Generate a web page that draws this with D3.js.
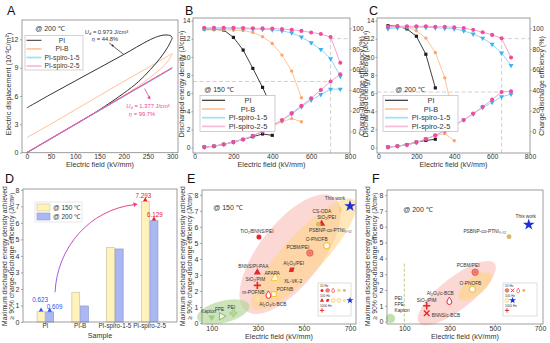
<!DOCTYPE html>
<html>
<head>
<meta charset="utf-8">
<script src="https://cdn.jsdelivr.net/npm/d3@7"></script>
<style>
  body { margin: 0; background: #fff; }
  svg { font-family: "Liberation Sans", Arial, sans-serif; }
</style>
</head>
<body>
<div id="fig"></div>
<script>
// ---------- data ----------
const seriesNames = ["PI", "PI-B", "PI-spiro-1-5", "PI-spiro-2-5"];

// A: unipolar D-E loops at 200 °C, [field kV/mm, D 10^-2 C/m2]
const piCharge = [[0, 0], [100, 3.0], [150, 4.55], [200, 6.3], [230, 7.5], [255, 8.8], [275, 10.0], [290, 11.1], [300, 12.1]];
const piDischarge = [[300, 12.1], [298, 12.35], [292, 12.45], [282, 12.45], [270, 12.3], [250, 11.85], [200, 10.4], [150, 9.0], [100, 7.6], [50, 6.2], [0, 4.75]];
const pibCharge = [[0, 0], [100, 3.0], [200, 6.05], [240, 7.4], [270, 8.6], [290, 9.6], [300, 10.5]];
const pibDischarge = [[300, 10.5], [250, 9.0], [200, 7.55], [150, 6.05], [100, 4.55], [50, 3.05], [0, 1.6]];
const s15Charge = [[0, 0], [150, 4.45], [300, 8.93]];
const s15Discharge = [[300, 8.93], [150, 4.5], [0, 0.02]];
const s25Charge = [[0, 0], [150, 4.5], [300, 9.0]];
const s25Discharge = [[300, 9.0], [150, 4.52], [0, 0.03]];

// B: 150 °C
const fieldPI150 = [50, 100, 150, 200, 250, 300, 350, 400];
const udPI150 = [0.05, 0.15, 0.35, 0.62, 0.9, 1.2, 1.5, 1.35];
const etaPI150 = [99, 99, 98.3, 91.2, 78.9, 61.1, 42.7, 22.3];
const fieldPIB150 = [50, 100, 150, 200, 250, 300, 350, 400, 450, 500, 550];
const udPIB150 = [0.05, 0.15, 0.35, 0.6, 0.9, 1.3, 1.8, 2.35, 2.85, 3.2, 2.85];
const etaPIB150 = [98.5, 98.5, 98.5, 98.3, 97.8, 96, 91.8, 85.3, 74, 58.5, 32.6];
const fieldSp150 = [50, 100, 150, 200, 250, 300, 350, 400, 450, 500, 550, 600, 650, 700, 750];
const udS15_150 = [0.05, 0.15, 0.35, 0.6, 0.9, 1.3, 1.8, 2.4, 3.0, 3.7, 4.5, 5.25, 5.85, 6.45, 6.45];
const etaS15_150 = [99.5, 99.5, 99.5, 99.5, 99.5, 99.3, 99, 98.5, 97.5, 95.5, 91.5, 86, 79.5, 70.5, 53.5];
const udS25_150 = [0.05, 0.15, 0.35, 0.6, 0.9, 1.3, 1.8, 2.45, 3.05, 3.8, 4.6, 5.45, 6.35, 7.293, 8.1];
const etaS25_150 = [100.5, 100.5, 100.5, 100.5, 100.3, 100, 100, 99.8, 99.3, 98.5, 97.5, 96, 94.5, 91.5, 66.5];

// C: 200 °C
const fieldPI200 = [50, 100, 150, 200, 250, 300];
const udPI200 = [0.05, 0.15, 0.33, 0.609, 0.78, 0.92];
const etaPI200 = [102.5, 102, 99.4, 92.3, 74.8, 42.2];
const fieldPIB200 = [50, 100, 150, 200, 250, 300, 350, 400];
const udPIB200 = [0.05, 0.15, 0.33, 0.6, 0.97, 1.3, 1.55, 0.75];
const etaPIB200 = [101, 101, 101, 97.6, 90.5, 76.5, 51.9, 11];
const fieldSp200 = [50, 100, 150, 200, 250, 300, 350, 400, 450, 500, 550, 600, 650, 700];
const udS15_200 = [0.05, 0.15, 0.3, 0.55, 0.95, 1.35, 1.85, 2.45, 3.05, 3.7, 4.42, 5.0, 5.6, 5.9];
const etaS15_200 = [99.5, 100.5, 101, 101, 101, 100.5, 100, 99.5, 97.5, 94.5, 90.5, 84.5, 76, 64];
const udS25_200 = [0.05, 0.15, 0.3, 0.55, 0.95, 1.35, 1.85, 2.45, 3.05, 3.75, 4.5, 5.3, 6.129, 6.22];
const etaS25_200 = [101.5, 102, 102, 102, 102, 101.5, 101.5, 101, 100.3, 98.5, 96.2, 93.6, 90.3, 71.7];

// D: max Ud at >= 90 % efficiency
const maxUd150 = [0.623, 1.8, 4.5, 7.293];
const maxUd200 = [0.609, 0.97, 4.42, 6.129];

// E: literature comparison at 150 °C
const eNames = ["This work", "CS-ODA", "SiO₂/PEI", "PSBNP-co-PTNI₀.₀₂", "TiO₂/BNNS/PEI", "O-PNOFB", "PCBM/PEI", "Al₂O₃/PEI", "BNNS/PI-PAA", "APAPA", "XL-VK-2", "SiO₂/PIM", "POFNB", "m-POFNB", "Al₂O₃/c-BCB", "PEI", "FPE", "Kapton"];
const eField = [700, 649, 577, 563, 305, 599, 526, 447, 298, 375, 396, 298, 370, 346, 298, 194, 143, 100];
const eUd = [7.293, 7.07, 6.2, 6.17, 5.36, 4.82, 4.37, 3.33, 3.16, 2.8, 2.7, 2.35, 1.81, 1.77, 1.52, 0.62, 0.42, 0.35];

// F: literature comparison at 200 °C
const fNames = ["This work", "PSBNP-co-PTNI₀.₀₂", "PCBM/PEI", "O-PNOFB", "Al₂O₃/c-BCB", "SiO₂/PIM", "BNNS/c-BCB", "PEI"];
const fField = [650, 563, 413, 401, 299, 199, 199, 39];
const fUd = [6.129, 5.37, 3.12, 2.05, 1.31, 1.0, 0.53, 0.2];

// ---------- styles ----------
const lineCol = ["#2a2a2a", "#ffc49a", "#96d6f5", "#f6a3cc"];
const markCol = ["#1c1c1c", "#ffa468", "#3db3ec", "#f04b9c"];
const legendCol = ["#333", "#ffc8a2", "#a9def6", "#f8bcd9"];
const eKind = ["star", "crescent", "redTri", "gold", "red", "ring", "hatch", "redSq", "redTri", "openTri", "yellow", "plus", "openSq", "drop", "pale", "greenPlus", "greenTri", "greenDown"];
const eLab = [[-15, -8, "middle"], [-7, 2, "end"], [5, -6, "middle"], [12, 6, "middle"], [-2, -6, "middle"], [-10, -6, "middle"], [-12, -6, "middle"], [2, -6, "middle"], [-4, -6, "middle"], [-3, -5, "middle"], [4, 2, "start"], [-2, -6, "middle"], [11, -5, "middle"], [-4, -2, "end"], [2, 6, "start"], [-2, -6, "middle"], [-2, -7, "middle"], [-3, -6, "middle"]];
const fKind = ["star", "gold", "hatch", "ring", "drop", "plus", "xmark", "blob"];
const fLab = [[-3, -8, "middle"], [-3, -5, "end"], [-7, -7, "middle"], [-2, -6, "middle"], [-9, -8, "middle"], [0, -5, "middle"], [5, 2, "start"], [3, -18, "start"]];

const W = 550, H = 343;
const svg = d3.select("#fig").append("svg").attr("width", W).attr("height", H);
const TXT = "#333", AX = "#858585";

function styleAxis(g, fs) {
  g.select(".domain").remove();
  g.selectAll("line").attr("stroke", AX).attr("stroke-width", 0.7);
  g.selectAll("text").attr("fill", TXT).style("font-size", fs + "px").attr("font-family", null);
}
function frame(x0, y0, x1, y1) {
  svg.append("rect").attr("x", x0).attr("y", y0).attr("width", x1 - x0).attr("height", y1 - y0)
    .attr("fill", "none").attr("stroke", AX).attr("stroke-width", 0.8);
}
function text(x, y, s, fs, anchor, col) {
  return svg.append("text").attr("x", x).attr("y", y).attr("text-anchor", anchor || "middle")
    .attr("fill", col || TXT).style("font-size", fs + "px").text(s);
}
function vtext(x, y, s, fs) {
  return svg.append("text").attr("transform", `translate(${x},${y}) rotate(-90)`)
    .attr("text-anchor", "middle").attr("fill", TXT).style("font-size", fs + "px").text(s);
}
function letter(x, y, s) { text(x, y, s, 12.5, "start", "#111"); }

// ---------- A ----------
(function drawA() {
  const x = d3.scaleLinear().domain([-10, 312]).range([22, 178]);
  const y = d3.scaleLinear().domain([0, 14.05]).range([152.7, 20]);
  const line = d3.line().x(d => x(d[0])).y(d => y(d[1])).curve(d3.curveCatmullRom);
  const branches = [[pibCharge, pibDischarge], [piCharge, piDischarge], [s15Charge, s15Discharge], [s25Charge, s25Discharge]];
  const order = [1, 0, 2, 3];
  const colA = ["#333", "#fdbb8e", "#6cc6f0", "#ee5aa7"];
  branches.forEach((b, k) => {
    const i = order[k];
    b.forEach(pts => svg.append("path").attr("d", line(pts)).attr("fill", "none")
      .attr("stroke", colA[i]).attr("stroke-width", i === 0 ? 1 : 0.9));
  });
  svg.append("g").attr("transform", "translate(0,152.7)")
    .call(d3.axisBottom(x).tickValues([0, 50, 100, 150, 200, 250, 300]).tickSize(1.8).tickPadding(-0.6))
    .call(g => styleAxis(g, 6.8));
  svg.append("g").attr("transform", "translate(22,0)")
    .call(d3.axisLeft(y).tickValues([0, 3, 6, 9, 12]).tickSize(2).tickPadding(1.5))
    .call(g => styleAxis(g, 7));
  frame(22, 20, 178, 152.7);
  text(100, 167, "Electric field (kV/mm)", 7.2);
  vtext(11, 84, "Electric displacement (10⁻²C/m²)", 7.2);
  letter(7, 15, "A");

  text(50, 31, "@ 200 ℃", 7);
  svg.append("rect").attr("x", 25).attr("y", 35.5).attr("width", 58).attr("height", 34.5)
    .attr("fill", "#fff").attr("stroke", "#b5b5b5").attr("stroke-width", 0.6);
  seriesNames.forEach((n, i) => {
    const yy = 40.3 + i * 8.6;
    svg.append("line").attr("x1", 26.5).attr("x2", 41.5).attr("y1", yy).attr("y2", yy)
      .attr("stroke", i === 0 ? "#333" : legendCol[i]).attr("stroke-width", i === 0 ? 1 : 1.8);
    text(62, yy + 2.3, n, 6.7);
  });

  // loss annotations
  const ud1 = text(106.5, 33.5, "", 5.8);
  ud1.append("tspan").attr("font-style", "italic").text("U");
  ud1.append("tspan").attr("font-size", "4px").attr("dy", 1).text("d");
  ud1.append("tspan").attr("dy", -1).text(" = 0.973 J/cm³");
  const eta1 = text(105, 41, "", 5.8);
  eta1.append("tspan").attr("font-style", "italic").text("η");
  eta1.append("tspan").text(" = 44.8%");
  svg.append("line").attr("x1", x(170)).attr("y1", 43).attr("x2", x(200)).attr("y2", y(10.4))
    .attr("stroke", "#222").attr("stroke-width", 0.7);
  svg.append("circle").attr("cx", x(177)).attr("cy", 45.5).attr("r", 1).attr("fill", "#222");

  const pink = "#ee3f97";
  svg.append("line").attr("x1", x(243)).attr("y1", y(7.1) + 3).attr("x2", x(252)).attr("y2", y(7.1) + 11)
    .attr("stroke", pink).attr("stroke-width", 0.8);
  svg.append("path").attr("d", d3.symbol(d3.symbolTriangle, 6)())
    .attr("transform", `translate(${x(252.5)},${y(7.1) + 12}) rotate(140)`).attr("fill", pink);
  const ud2 = text(148, 108, "", 5.8, "middle", pink);
  ud2.append("tspan").attr("font-style", "italic").text("U");
  ud2.append("tspan").attr("font-size", "4px").attr("dy", 1).text("d");
  ud2.append("tspan").attr("dy", -1).text(" = 1.377 J/cm³");
  const eta2 = text(142, 115.5, "", 5.8, "middle", pink);
  eta2.append("tspan").attr("font-style", "italic").text("η");
  eta2.append("tspan").text(" = 99.7%");
})();

// ---------- B, C ----------
function energyPanel(p) {
  const x = d3.scaleLinear().domain([-8, 800]).range([p.left, p.right]);
  const y = d3.scaleLinear().domain([-0.6, 14.3]).range([153, 18]);
  const yr = d3.scaleLinear().domain([-21, 110]).range([153, 18]);

  // 90 % guides
  const guide = (x1, y1, x2, y2) => svg.append("line").attr("x1", x1).attr("y1", y1).attr("x2", x2).attr("y2", y2)
    .attr("stroke", "#c4c4c4").attr("stroke-width", 0.8).attr("stroke-dasharray", "4,2.5");
  guide(p.left, y(p.maxUd), x(p.maxField), y(p.maxUd));
  guide(x(p.maxField), 153, x(p.maxField), yr(90));
  guide(x(p.maxField), yr(90), p.right, yr(90));

  const syms = [d3.symbolSquare, d3.symbolCircle, d3.symbolTriangle, d3.symbolCircle];
  const symSize = [10, 9, 11, 13];
  p.series.forEach((s, i) => {
    [[s.ud, y], [s.eta, yr]].forEach(([vals, sc]) => {
      const pts = s.field.map((f, k) => [f, vals[k]]);
      svg.append("path").attr("d", d3.line().x(d => x(d[0])).y(d => sc(d[1]))(pts))
        .attr("fill", "none").attr("stroke", lineCol[i]).attr("stroke-width", i === 0 ? 0.9 : 1);
      svg.append("g").selectAll("path").data(pts).join("path")
        .attr("d", d3.symbol(syms[i], symSize[i])())
        .attr("transform", d => `translate(${x(d[0])},${sc(d[1])})` + (i === 2 ? " rotate(180)" : ""))
        .attr("fill", markCol[i]);
    });
  });

  svg.append("g").attr("transform", "translate(0,153)")
    .call(d3.axisBottom(x).tickValues([0, 200, 400, 600, 800]).tickSize(1.8).tickPadding(-0.6))
    .call(g => styleAxis(g, 6.8));
  svg.append("g").attr("transform", `translate(${p.left},0)`)
    .call(d3.axisLeft(y).tickValues(d3.range(0, 15, 2)).tickSize(1.6).tickPadding(1))
    .call(g => styleAxis(g, 6.6));
  svg.append("g").attr("transform", `translate(${p.right},0)`)
    .call(d3.axisRight(yr).tickValues([0, 20, 40, 60, 80, 100]).tickSize(1.6).tickPadding(1))
    .call(g => styleAxis(g, 6.6));
  frame(p.left, 18, p.right, 153);

  text((p.left + p.right) / 2, 167, "Electric field (kV/mm)", 7.2);
  vtext(p.left - p.titleGap, 84, "Discharged energy density (J/cm³)", 7);
  vtext(p.right + 13.5, 86, "Charge-discharge efficiency (%)", 7);
  letter(p.left - 8, 14.5, p.letter);

  text(p.tempX, 91.5, p.temp, 7);
  const lx = p.legendX;
  svg.append("rect").attr("x", lx).attr("y", 95.5).attr("width", 75).attr("height", 36)
    .attr("fill", "#fff").attr("stroke", "#b0b0b0").attr("stroke-width", 0.6);
  seriesNames.forEach((n, i) => {
    const yy = 100.3 + i * 8.7;
    svg.append("line").attr("x1", lx + 2).attr("x2", lx + 25).attr("y1", yy).attr("y2", yy)
      .attr("stroke", legendCol[i]).attr("stroke-width", i === 0 ? 1.2 : 1.8);
    text(lx + 48, yy + 2.5, n, 7.4);
  });
}

energyPanel({
  left: 193, right: 350, letter: "B", temp: "@ 150 ℃", tempX: 219, legendX: 200,
  maxUd: 7.293, maxField: 700, titleGap: 9,
  series: [
    { field: fieldPI150, ud: udPI150, eta: etaPI150 },
    { field: fieldPIB150, ud: udPIB150, eta: etaPIB150 },
    { field: fieldSp150, ud: udS15_150, eta: etaS15_150 },
    { field: fieldSp150, ud: udS25_150, eta: etaS25_150 }
  ]
});
energyPanel({
  left: 377, right: 530, letter: "C", temp: "@ 200 ℃", tempX: 410, legendX: 383,
  maxUd: 6.129, maxField: 650, titleGap: 9.5,
  series: [
    { field: fieldPI200, ud: udPI200, eta: etaPI200 },
    { field: fieldPIB200, ud: udPIB200, eta: etaPIB200 },
    { field: fieldSp200, ud: udS15_200, eta: etaS15_200 },
    { field: fieldSp200, ud: udS25_200, eta: etaS25_200 }
  ]
});

// two-line y title used by D, E, F
function maxTitle(x, yc) {
  vtext(x, yc, "Maximum discharged energy density achieved", 6.8);
  vtext(x + 7.8, yc, "≥ 90% charge-discharge efficiency (J/cm³)", 6.8);
}

// ---------- D ----------
(function drawD() {
  const x = d3.scaleBand().domain(seriesNames).range([28, 167]).paddingInner(0.5).paddingOuter(0.25);
  const xi = d3.scaleBand().domain(["150", "200"]).range([0, x.bandwidth()]);
  const y = d3.scaleLinear().domain([0, 8.05]).range([322, 189]);
  const fills = { "150": "#fff3bb", "200": "#abb7f3" };
  const strokes = { "150": "#cbc49c", "200": "#8f9ad0" };
  const rows = seriesNames.map((n, i) => ({ n, v: { "150": maxUd150[i], "200": maxUd200[i] } }));
  rows.forEach(r => ["150", "200"].forEach(t => {
    svg.append("rect").attr("x", x(r.n) + xi(t) + 0.4).attr("y", y(r.v[t]))
      .attr("width", xi.bandwidth() - 0.8).attr("height", y(0) - y(r.v[t]))
      .attr("fill", fills[t]).attr("stroke", strokes[t]).attr("stroke-width", 0.7);
  }));

  svg.append("g").attr("transform", "translate(0,322)")
    .call(d3.axisBottom(x).tickSize(2).tickPadding(0))
    .call(g => styleAxis(g, 6.3));
  svg.append("g").attr("transform", "translate(23,0)")
    .call(d3.axisLeft(y).tickValues(d3.range(0, 9)).tickSize(2).tickPadding(1.5))
    .call(g => styleAxis(g, 7));
  frame(23, 189, 177, 322);
  text(100, 337.5, "Sample", 7.2);
  maxTitle(6.5, 256);
  letter(5, 182.5, "D");

  // legend
  svg.append("rect").attr("x", 35).attr("y", 202).attr("width", 47).attr("height", 20)
    .attr("fill", "#fff").attr("stroke", "#d0d0d0").attr("stroke-width", 0.5);
  ["150", "200"].forEach((t, k) => {
    svg.append("rect").attr("x", 37).attr("y", 204 + k * 9).attr("width", 13).attr("height", 7)
      .attr("fill", fills[t]).attr("stroke", strokes[t]).attr("stroke-width", 0.6);
    text(53, 210 + k * 9, `@ ${t} ℃`, 6.5, "start");
  });

  // value markers on PI and PI-spiro-2-5: [sample, temperature, colour, label dx, label baseline offset]
  const marks = [["PI", "150", "#2c56e8", -1, -9.5], ["PI", "200", "#2c56e8", 5, -2.8], ["PI-spiro-2-5", "150", "#e8202a", -2, -3.8], ["PI-spiro-2-5", "200", "#e8202a", 1, -3.8]];
  marks.forEach(([n, t, c, dx, dy]) => {
    const i = seriesNames.indexOf(n);
    const v = t === "150" ? maxUd150[i] : maxUd200[i];
    const cx = x(n) + xi(t) + xi.bandwidth() / 2;
    svg.append("path").attr("d", d3.symbol(d3.symbolTriangle, 9)())
      .attr("transform", `translate(${cx},${y(v) - 1.6})`).attr("fill", c);
    text(cx + dx, y(v) + dy, v.toFixed(3), 6.3, "middle", c);
  });

  // growth arrow
  const grad = svg.append("defs").append("linearGradient").attr("id", "arrowGrad")
    .attr("gradientUnits", "userSpaceOnUse")
    .attr("x1", 55).attr("y1", 292).attr("x2", 134).attr("y2", 207);
  grad.append("stop").attr("offset", 0).attr("stop-color", "#9a5cf4");
  grad.append("stop").attr("offset", 1).attr("stop-color", "#f5407c");
  const x0 = x("PI") + x.bandwidth() + 1, y0 = y(1.8);
  const x1 = x("PI-spiro-2-5") - 7, y1 = y(7.1);
  svg.append("path").attr("d", `M${x0},${y0} C${x0 + 2},${y0 - 45} ${x0 + 35},${y1 + 5} ${x1},${y1}`)
    .attr("fill", "none").attr("stroke", "url(#arrowGrad)").attr("stroke-width", 1);
  svg.append("path").attr("d", d3.symbol(d3.symbolTriangle, 10)())
    .attr("transform", `translate(${x1 + 1},${y1 - 0.3}) rotate(80)`).attr("fill", "#f5407c");
})();

// ---------- E, F ----------
function drawMark(g, kind, px, py, k) {
  const m = g.append("g").attr("transform", `translate(${px},${py}) scale(${k || 1})`);
  const sym = (t, s) => d3.symbol(t, s)();
  const red = "#e8262b", yel = "#f6c745";
  switch (kind) {
    case "star": m.append("path").attr("d", sym(d3.symbolStar, 42)).attr("fill", "#1d30d6"); break;
    case "red": m.append("circle").attr("r", 2.5).attr("fill", red); break;
    case "hatch":
      m.append("circle").attr("r", 3.2).attr("fill", "#f48a7d").attr("stroke", "#ea4a3e").attr("stroke-width", 0.8);
      m.append("circle").attr("r", 1.3).attr("fill", "#ef6b5e"); break;
    case "gold": m.append("circle").attr("r", 2.4).attr("fill", "#d6b867"); break;
    case "pale": m.append("circle").attr("r", 2.7).attr("fill", "#fbe29e"); break;
    case "yellow": m.append("circle").attr("r", 3).attr("fill", "#f9d98a"); break;
    case "ring": m.append("circle").attr("r", 3.1).attr("fill", "#fffaf0").attr("stroke", yel).attr("stroke-width", 1.3); break;
    case "redTri": m.append("path").attr("d", sym(d3.symbolTriangle, 22)).attr("fill", red); break;
    case "openTri": m.append("path").attr("d", sym(d3.symbolTriangle, 30)).attr("fill", "#fff9e6").attr("stroke", yel).attr("stroke-width", 1); break;
    case "redSq": m.append("path").attr("d", sym(d3.symbolSquare, 20)).attr("transform", "skewX(-15)").attr("fill", red); break;
    case "openSq": m.append("path").attr("d", sym(d3.symbolSquare, 24)).attr("fill", "#fff9e6").attr("stroke", yel).attr("stroke-width", 1.2); break;
    case "plus": m.append("path").attr("d", "M-3.6,0H3.6M0,-3.6V3.6").attr("stroke", red).attr("stroke-width", 1.6); break;
    case "xmark": m.append("path").attr("d", "M-2.8,-2.8L2.8,2.8M-2.8,2.8L2.8,-2.8").attr("stroke", red).attr("stroke-width", 1.4); break;
    case "drop": m.append("path").attr("d", "M0,-3.8C1.4,-1.6 2.4,-0.2 2.4,1.2A2.4,2.4 0 1 1 -2.4,1.2C-2.4,-0.2 -1.4,-1.6 0,-3.8Z")
      .attr("fill", "#fff").attr("stroke", red).attr("stroke-width", 1); break;
    case "crescent": m.append("path").attr("d", "M0,-3.2A3.2,3.2 0 0 1 0,3.2A1.6,3.2 0 0 0 0,-3.2Z").attr("fill", "#f6cd5c"); break;
    case "greenPlus": m.append("path").attr("d", sym(d3.symbolCross, 26)).attr("fill", "#b7d89c").attr("stroke", "#96c273").attr("stroke-width", 0.5); break;
    case "greenTri": m.append("path").attr("d", sym(d3.symbolTriangle, 24)).attr("transform", "rotate(90)").attr("fill", "#f1f8ea").attr("stroke", "#7db457").attr("stroke-width", 0.9); break;
    case "greenDown": m.append("path").attr("d", sym(d3.symbolTriangle, 20)).attr("transform", "rotate(180)").attr("fill", "#9fca7f"); break;
    case "blob": m.append("circle").attr("r", 4.6).attr("fill", "#bcdca4").attr("opacity", 0.9); break;
  }
}

function freqLegend(x0, y0, w, rows) {
  svg.append("rect").attr("x", x0).attr("y", y0).attr("width", w).attr("height", 33)
    .attr("fill", "#fff").attr("stroke", "#bdbdbd").attr("stroke-width", 0.5);
  rows.forEach(([lab, kinds], r) => {
    const yy = y0 + 3.6 + r * 10;
    text(x0 + 2, yy, lab, 3.2, "start");
    const g = svg.append("g");
    kinds.forEach((k, j) => drawMark(g, k, x0 + 4 + j * 5.6, yy + 3.8, 0.6));
  });
}

function comparePanel(p) {
  const x = d3.scaleLinear().domain(p.xDomain).range([p.left, p.right]);
  const y = d3.scaleLinear().domain(p.yDomain).range([324, 190]);
  p.zones.forEach(z => {
    svg.append("ellipse").attr("cx", 0).attr("cy", 0).attr("rx", z.rx).attr("ry", z.ry)
      .attr("transform", `translate(${x(z.cx)},${y(z.cy)}) rotate(${z.rot})`)
      .attr("fill", z.fill);
  });
  if (p.guideX) {
    svg.append("line").attr("x1", x(p.guideX)).attr("x2", x(p.guideX)).attr("y1", y(0)).attr("y2", y(3.7))
      .attr("stroke", "#a9bf6b").attr("stroke-width", 0.8).attr("stroke-dasharray", "3,2");
  }
  const g = svg.append("g");
  p.names.forEach((n, i) => {
    const px = x(p.field[i]), py = y(p.ud[i]);
    drawMark(g, p.kind[i], px, py);
    const [dx, dy, anc] = p.lab[i];
    if (p.stack && i === p.names.length - 1) {
      ["PEI", "FPE", "Kapton"].forEach((s, k) => text(px + dx + 1, py + dy + k * 5.6, s, 4.8, "start"));
    } else {
      text(px + dx, py + dy + 1.6, n, 4.8, anc);
    }
  });

  svg.append("g").attr("transform", "translate(0,324)")
    .call(d3.axisBottom(x).tickValues([100, 300, 500, 700]).tickSize(2).tickPadding(0))
    .call(g => styleAxis(g, 7));
  svg.append("g").attr("transform", `translate(${p.left},0)`)
    .call(d3.axisLeft(y).tickValues(d3.range(0, 9)).tickSize(2).tickPadding(1.5))
    .call(g => styleAxis(g, 7));
  frame(p.left, 190, p.right, 324);
  text((p.left + p.right) / 2, 338.5, "Electric field (kV/mm)", 7.2);
  maxTitle(p.left - 17.5, 256);
  letter(p.left - 15, 182.5, p.letter);
  text(p.tempX, p.tempY, p.temp, 7);
  freqLegend(p.legX, 283, p.legW, p.legRows);
}

comparePanel({
  left: 202, right: 356, letter: "E", xDomain: [58, 726], yDomain: [-0.06, 8.3],
  temp: "@ 150 ℃", tempX: 228, tempY: 210,
  names: eNames, field: eField, ud: eUd, kind: eKind, lab: eLab,
  zones: [
    { cx: 440, cy: 4.3, rx: 72, ry: 31, rot: -52, fill: "rgba(246,168,160,0.45)" },
    { cx: 500, cy: 4.3, rx: 74, ry: 20, rot: -47, fill: "rgba(255,212,130,0.55)" },
    { cx: 150, cy: 0.7, rx: 27, ry: 11, rot: -14, fill: "rgba(178,214,150,0.65)" }
  ],
  legX: 318, legW: 33,
  legRows: [["10 Hz", ["red", "hatch", "drop", "yellow", "gold"]], ["100 Hz", ["redTri", "redSq", "ring", "ring", "pale", "star"]], ["1000 Hz", ["plus"]]]
});
comparePanel({
  left: 387, right: 543, letter: "F", xDomain: [23.5, 713], yDomain: [-0.15, 8.32],
  temp: "@ 200 ℃", tempX: 418, tempY: 211.5,
  names: fNames, field: fField, ud: fUd, kind: fKind, lab: fLab, stack: true, guideX: 100,
  zones: [
    { cx: 332, cy: 1.8, rx: 48, ry: 16, rot: -38, fill: "rgba(246,168,160,0.45)" },
    { cx: 412, cy: 2.22, rx: 20, ry: 9, rot: -38, fill: "rgba(255,212,130,0.6)" }
  ],
  legX: 503, legW: 34,
  legRows: [["10 Hz", ["hatch", "xmark", "drop", "gold"]], ["100 Hz", ["ring", "star"]], ["1000 Hz", ["plus"]]]
});
</script>
</body>
</html>
